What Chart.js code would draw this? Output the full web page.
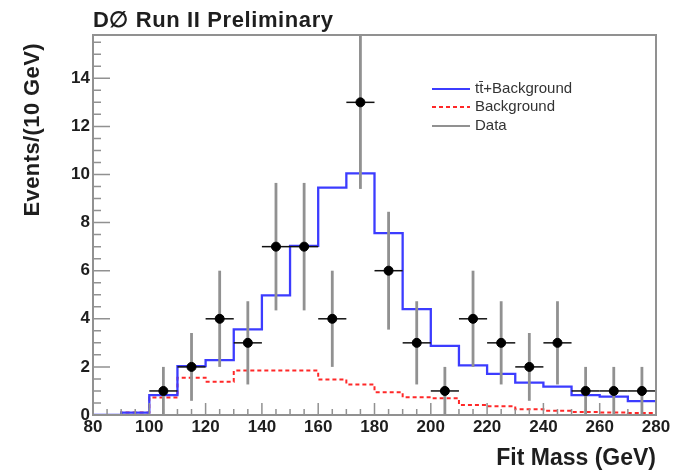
<!DOCTYPE html>
<html>
<head>
<meta charset="utf-8">
<title>Fit Mass</title>
<script src="https://cdn.jsdelivr.net/npm/chart.js@4.4.1/dist/chart.umd.min.js"></script>
<style>
    html, body { margin: 0; padding: 0; background: #fff; }
    #wrap { width: 674px; height: 474px; }
</style>
</head>
<body>
<div id="wrap"><canvas id="massChart" width="674" height="474"></canvas></div>
<script>
// Histogram bins (lower edge, GeV) - 10 GeV wide
const binLow = [80, 90, 100, 110, 120, 130, 140, 150, 160, 170, 180, 190, 200, 210, 220, 230, 240, 250, 260, 270];
const binHigh = 280;

// ttbar + background expectation per bin
const signalPlusBkg = [0, 0.1, 0.83, 2.03, 2.28, 3.56, 4.97, 7.03, 9.45, 10.05, 7.56, 4.4, 2.87, 2.06, 1.71, 1.35, 1.18, 0.83, 0.76, 0.58];

// background only per bin
const backgroundOnly = [0, 0.1, 0.73, 1.55, 1.38, 1.85, 1.85, 1.85, 1.48, 1.27, 0.95, 0.74, 0.7, 0.42, 0.36, 0.24, 0.18, 0.12, 0.1, 0.08];

// observed data (bin centres) and their errors
const dataMass = [105, 115, 125, 135, 145, 155, 165, 175, 185, 195, 205, 215, 225, 235, 245, 255, 265, 275];
const dataEvents = [1, 2, 4, 3, 7, 7, 4, 13, 6, 3, 1, 4, 3, 2, 3, 1, 1, 1];
const dataErr = [1, 1.41, 2, 1.73, 2.65, 2.65, 2, 3.6, 2.45, 1.73, 1, 2, 1.73, 1.41, 1.73, 1, 1, 1];

// axis ticks
const xTickLabels = [80, 100, 120, 140, 160, 180, 200, 220, 240, 260, 280];
const yTickLabels = [0, 2, 4, 6, 8, 10, 12, 14];

const FONT = '"Liberation Sans", Arial, Helvetica, sans-serif';
const BLUE = 'rgb(60, 60, 255)';
const RED = 'rgb(255, 40, 40)';
const GRAY = 'rgb(145, 145, 145)';
const INK = '#1e1e1e';

/**
 * Turn per-bin values into points for a stepped line
 */
function histPoints(values) {
    const pts = values.map((v, i) => ({ x: binLow[i], y: v }));
    pts.push({ x: binHigh, y: values[values.length - 1] });
    return pts;
}

/**
 * Error bars for the data points (drawn under the markers)
 */
const errorBarPlugin = {
    id: 'errorBars',
    beforeDatasetDraw(chart, args) {
        if (args.index !== 0) return;
        const xs = chart.scales.x;
        const ys = chart.scales.y;
        const top = chart.chartArea.top;
        const ctx = chart.ctx;
        ctx.save();
        dataMass.forEach((m, i) => {
            const px = xs.getPixelForValue(m);
            const py = ys.getPixelForValue(dataEvents[i]);
            const yHi = Math.max(top, ys.getPixelForValue(dataEvents[i] + dataErr[i]));
            const yLo = ys.getPixelForValue(Math.max(0, dataEvents[i] - dataErr[i]));

            ctx.strokeStyle = GRAY;
            ctx.lineWidth = 2.8;
            ctx.beginPath();
            ctx.moveTo(px, yHi);
            ctx.lineTo(px, yLo);
            ctx.stroke();

            ctx.strokeStyle = '#111';
            ctx.lineWidth = 1.5;
            ctx.beginPath();
            ctx.moveTo(xs.getPixelForValue(m - 5), py);
            ctx.lineTo(xs.getPixelForValue(m + 5), py);
            ctx.stroke();
        });
        ctx.restore();
    }
};

/**
 * ROOT style frame, inner ticks, titles and legend
 */
const frameAndLegendPlugin = {
    id: 'frameAndLegend',
    afterDraw(chart) {
        const ctx = chart.ctx;
        const area = chart.chartArea;
        const xs = chart.scales.x;
        const ys = chart.scales.y;
        ctx.save();

        // inner ticks
        ctx.strokeStyle = GRAY;
        ctx.lineWidth = 1.5;
        ctx.beginPath();
        for (let v = xs.min; v <= xs.max + 0.001; v += 5) {
            const px = xs.getPixelForValue(v);
            const len = (v % 20 === 0) ? 12 : 6;
            ctx.moveTo(px, area.bottom);
            ctx.lineTo(px, area.bottom - len);
        }
        for (let v = 0; v <= ys.max + 0.001; v += 0.5) {
            const py = ys.getPixelForValue(v);
            const len = (v % 2 === 0) ? 17 : 8;
            ctx.moveTo(area.left, py);
            ctx.lineTo(area.left + len, py);
        }
        ctx.stroke();

        // frame
        ctx.lineWidth = 2;
        ctx.strokeRect(area.left, area.top, area.right - area.left, area.bottom - area.top);

        // title
        ctx.fillStyle = INK;
        ctx.font = 'bold 22px ' + FONT;
        ctx.letterSpacing = '0.6px';
        ctx.textAlign = 'left';
        ctx.textBaseline = 'alphabetic';
        ctx.fillText('D\u2205 Run II Preliminary', area.left, 27);

        // y axis title, right aligned to the top like ROOT
        ctx.save();
        ctx.translate(39, area.top + 8);
        ctx.rotate(-Math.PI / 2);
        ctx.textAlign = 'right';
        ctx.letterSpacing = '0.4px';
        ctx.fillText('Events/(10 GeV)', 0, 0);
        ctx.restore();
        ctx.letterSpacing = '0px';

        // legend
        const rows = [
            { label: chart.data.datasets[1].label, color: BLUE, dash: [] },
            { label: chart.data.datasets[2].label, color: RED, dash: [4, 3] },
            { label: chart.data.datasets[0].label, color: GRAY, dash: [] }
        ];
        const rowY = [89, 107, 126];
        ctx.font = '15px ' + FONT;
        ctx.textAlign = 'left';
        ctx.textBaseline = 'middle';
        rows.forEach((r, i) => {
            ctx.strokeStyle = r.color;
            ctx.lineWidth = 2;
            ctx.setLineDash(r.dash);
            ctx.beginPath();
            ctx.moveTo(432, rowY[i]);
            ctx.lineTo(470, rowY[i]);
            ctx.stroke();
            ctx.setLineDash([]);
            ctx.fillStyle = '#333';
            ctx.fillText(r.label, 475, rowY[i]);
        });
        ctx.restore();
    }
};

document.addEventListener('DOMContentLoaded', function() {
    const canvas = document.getElementById('massChart');

    new Chart(canvas, {
        type: 'scatter',
        data: {
            datasets: [{
                label: 'Data',
                data: dataMass.map((m, i) => ({ x: m, y: dataEvents[i] })),
                pointRadius: 4.5,
                pointBackgroundColor: '#000',
                pointBorderColor: '#000',
                showLine: false
            }, {
                label: 'tt\u0304+Background',
                type: 'line',
                data: histPoints(signalPlusBkg),
                borderColor: BLUE,
                borderWidth: 2.3,
                stepped: 'before',
                pointRadius: 0,
                fill: false
            }, {
                label: 'Background',
                type: 'line',
                data: histPoints(backgroundOnly),
                borderColor: RED,
                borderWidth: 2,
                borderDash: [4, 3],
                stepped: 'before',
                pointRadius: 0,
                fill: false
            }]
        },
        options: {
            responsive: false,
            animation: false,
            devicePixelRatio: 1,
            layout: { padding: { top: 35, right: 18, left: 0, bottom: 0 } },
            plugins: {
                legend: { display: false },
                tooltip: { enabled: false }
            },
            scales: {
                x: {
                    type: 'linear',
                    min: 80,
                    max: 280,
                    grid: { display: false, drawTicks: false },
                    border: { display: false },
                    afterBuildTicks: scale => {
                        scale.ticks = xTickLabels.map(v => ({ value: v }));
                    },
                    afterFit: scale => { scale.height = 59; },
                    ticks: {
                        padding: 2,
                        color: INK,
                        maxRotation: 0,
                        font: { family: FONT, size: 17, weight: 'bold' }
                    },
                    title: {
                        display: true,
                        text: 'Fit Mass (GeV)',
                        align: 'end',
                        color: INK,
                        padding: { top: 0, bottom: 2 },
                        font: { family: FONT, size: 23, weight: 'bold' }
                    }
                },
                y: {
                    min: 0,
                    max: 15.8,
                    grid: { display: false, drawTicks: false },
                    border: { display: false },
                    afterBuildTicks: scale => {
                        scale.ticks = yTickLabels.map(v => ({ value: v }));
                    },
                    afterFit: scale => { scale.width = 93; },
                    ticks: {
                        padding: 3,
                        color: INK,
                        font: { family: FONT, size: 17, weight: 'bold' }
                    }
                }
            }
        },
        plugins: [errorBarPlugin, frameAndLegendPlugin]
    });
});
</script>
</body>
</html>
